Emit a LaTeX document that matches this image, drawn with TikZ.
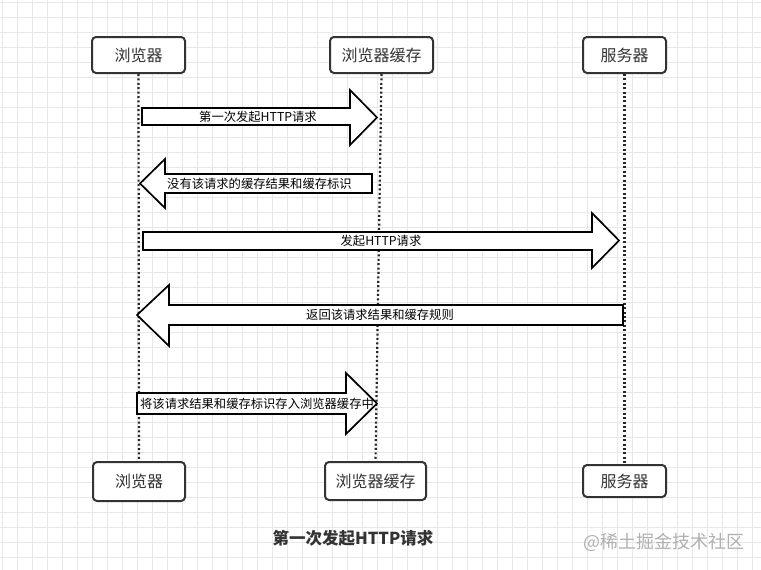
\documentclass[tikz,border=0pt]{standalone}
\usepackage{fontspec}
\setmainfont{Noto Sans CJK SC}
\definecolor{boxc}{HTML}{333333}
\definecolor{txt}{HTML}{333333}
\definecolor{gridc}{HTML}{E8E8E8}
\definecolor{wmc}{HTML}{B0B0B0}
\begin{document}
\begin{tikzpicture}[x=1pt,y=-1pt,
  actor/.style={draw=boxc, line width=2pt, rounded corners=4pt, fill=white, minimum height=36pt, text=txt, font=\fontsize{16}{18}\selectfont, inner sep=0pt},
  life/.style={draw=black!85, line width=2.2pt, dash pattern=on 2pt off 2.4pt},
  blockarrow/.style={draw=black, line width=1.7pt, fill=white, miter limit=10},
  lbl/.style={font=\fontsize{12.3}{14}\selectfont, text=black, inner sep=0pt},
  gridline/.style={draw=gridc, line width=0.8pt}]
\useasboundingbox (0,0) rectangle (761,570);
\fill[white] (0,0) rectangle (761,570);
\foreach \i in {0,...,50} \draw[gridline] ({2+15*\i},0) -- ({2+15*\i},570);
\foreach \j in {0,...,37} \draw[gridline] (0,{2+15*\j}) -- (761,{2+15*\j});

% actors
\node[actor, minimum width=93pt] (b1) at (138.5,55) {浏览器};
\node[actor, minimum width=103pt] (c1) at (381.5,55) {浏览器缓存};
\node[actor, minimum width=83pt] (s1) at (624.5,55) {服务器};
\node[actor, minimum width=92pt, minimum height=39pt] (b2) at (139,481.5) {浏览器};
\node[actor, minimum width=101pt, minimum height=38pt] (c2) at (375.5,481) {浏览器缓存};
\node[actor, minimum width=83pt, minimum height=32pt] (s2) at (624.5,481) {服务器};

% lifelines
\draw[life] (b1.south) -- (b2.north);
\draw[life] (c1.south) -- (c2.north);
\draw[life] (s1.south) -- (s2.north);

% block arrows
\draw[blockarrow] (142,108) -- (350,108) -- (350,90) -- (377,117.5) -- (350,145) -- (350,125) -- (142,125) -- cycle;
\node[lbl] (t1) at (258,116.5) {第一次发起HTTP请求};

\draw[blockarrow] (372,174) -- (165,174) -- (165,159) -- (140,183.5) -- (165,208) -- (165,193) -- (372,193) -- cycle;
\node[lbl, anchor=west] (t2) at (167,183.5) {没有该请求的缓存结果和缓存标识};

\draw[blockarrow] (143,232) -- (592,232) -- (592,213) -- (619,240.5) -- (592,268) -- (592,250) -- (143,250) -- cycle;
\node[lbl] (t3) at (381,241) {发起HTTP请求};

\draw[blockarrow] (623,305) -- (169,305) -- (169,285) -- (137,315) -- (169,346) -- (169,325) -- (623,325) -- cycle;
\node[lbl] (t4) at (380,315) {返回该请求结果和缓存规则};

\draw[blockarrow] (137,393) -- (346,393) -- (346,373) -- (377,403.5) -- (346,434) -- (346,414) -- (137,414) -- cycle;
\node[lbl] (t5) at (257,403.5) {将该请求结果和缓存标识存入浏览器缓存中};

% caption and watermark
\node[font=\bfseries\fontsize{16.5}{18}\selectfont, text=txt] (title) at (353,538) {第一次发起HTTP请求};
\node[font=\fontsize{18}{20}\selectfont, text=wmc] (wm) at (664,542) {@稀土掘金技术社区};
\end{tikzpicture}
\end{document}
